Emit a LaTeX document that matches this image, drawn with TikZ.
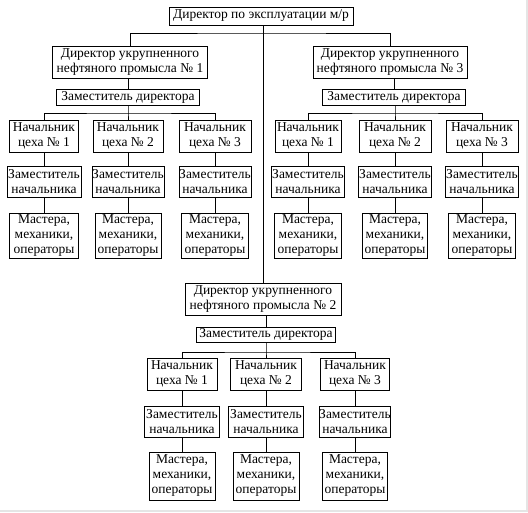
\documentclass[tikz,border=0pt]{standalone}
\usepackage{fontspec}
\setmainfont{Liberation Serif}
\begin{document}
\begin{tikzpicture}[x=1pt,y=-1pt,
  bx/.style={draw=black,line width=1pt,inner sep=0pt,align=center,
    font=\fontsize{13.5}{15}\selectfont},
  ln/.style={line width=1pt,draw=black}]
\useasboundingbox (0,0) rectangle (528,512);
\fill[black!10] (526,0) rectangle (528,512);
\fill[black!10] (0,509.5) rectangle (528,512);
% top
\node[bx,minimum width=184pt,minimum height=18pt] (top) at (261,16) {Директор по эксплуатации м/р};
% left branch
\node[bx,minimum width=155pt,minimum height=32pt] (d1) at (130,62) {Директор укрупненного\\нефтяного промысла № 1};
\node[bx,minimum width=143pt,minimum height=16pt] (p1) at (128,97) {Заместитель директора};
\node[bx,minimum width=69pt,minimum height=32pt] (n11) at (44,136) {Начальник\\цеха № 1};
\node[bx,minimum width=70pt,minimum height=32pt] (n12) at (128,136) {Начальник\\цеха № 2};
\node[bx,minimum width=72pt,minimum height=32pt] (n13) at (215,136) {Начальник\\цеха № 3};
\node[bx,minimum width=74pt,minimum height=31pt] (z11) at (44,181.5) {Заместитель\\начальника};
\node[bx,minimum width=72pt,minimum height=31pt] (z12) at (128,181.5) {Заместитель\\начальника};
\node[bx,minimum width=72pt,minimum height=31pt] (z13) at (215,181.5) {Заместитель\\начальника};
\node[bx,minimum width=69pt,minimum height=45pt] (m11) at (44,235.5) {Мастера,\\механики,\\операторы};
\node[bx,minimum width=66pt,minimum height=45pt] (m12) at (128,235.5) {Мастера,\\механики,\\операторы};
\node[bx,minimum width=67pt,minimum height=45pt] (m13) at (215,235.5) {Мастера,\\механики,\\операторы};
% right branch
\node[bx,minimum width=154pt,minimum height=32pt] (d3) at (390,62) {Директор укрупненного\\нефтяного промысла № 3};
\node[bx,minimum width=143pt,minimum height=16pt] (p3) at (394,97) {Заместитель директора};
\node[bx,minimum width=66pt,minimum height=32pt] (n31) at (308,136) {Начальник\\цеха № 1};
\node[bx,minimum width=72pt,minimum height=32pt] (n32) at (395,136) {Начальник\\цеха № 2};
\node[bx,minimum width=72pt,minimum height=32pt] (n33) at (482,136) {Начальник\\цеха № 3};
\node[bx,minimum width=73pt,minimum height=31pt] (z31) at (308,181.5) {Заместитель\\начальника};
\node[bx,minimum width=73pt,minimum height=31pt] (z32) at (395,181.5) {Заместитель\\начальника};
\node[bx,minimum width=73pt,minimum height=31pt] (z33) at (482,181.5) {Заместитель\\начальника};
\node[bx,minimum width=67pt,minimum height=45pt] (m31) at (308,235.5) {Мастера,\\механики,\\операторы};
\node[bx,minimum width=65pt,minimum height=45pt] (m32) at (395,235.5) {Мастера,\\механики,\\операторы};
\node[bx,minimum width=67pt,minimum height=45pt] (m33) at (482,235.5) {Мастера,\\механики,\\операторы};
% middle branch
\node[bx,minimum width=156pt,minimum height=32pt] (d2) at (263,299) {Директор укрупненного\\нефтяного промысла № 2};
\node[bx,minimum width=139pt,minimum height=15pt] (p2) at (266,334.5) {Заместитель директора};
\node[bx,minimum width=70pt,minimum height=32pt] (n21) at (182,374) {Начальник\\цеха № 1};
\node[bx,minimum width=71pt,minimum height=32pt] (n22) at (266,374) {Начальник\\цеха № 2};
\node[bx,minimum width=69pt,minimum height=32pt] (n23) at (355,374) {Начальник\\цеха № 3};
\node[bx,minimum width=75pt,minimum height=31pt] (z21) at (182,421.5) {Заместитель\\начальника};
\node[bx,minimum width=75pt,minimum height=31pt] (z22) at (266,421.5) {Заместитель\\начальника};
\node[bx,minimum width=71pt,minimum height=31pt] (z23) at (355,421.5) {Заместитель\\начальника};
\node[bx,minimum width=66pt,minimum height=48pt] (m21) at (182,476) {Мастера,\\механики,\\операторы};
\node[bx,minimum width=66pt,minimum height=48pt] (m22) at (266,476) {Мастера,\\механики,\\операторы};
\node[bx,minimum width=65pt,minimum height=48pt] (m23) at (355,476) {Мастера,\\механики,\\операторы};
% bus coordinates
\coordinate (b0) at (263,33);
\coordinate (b1) at (128,113);
\coordinate (b3) at (395,113);
\coordinate (b2) at (266,352);
% connectors top level
\draw[ln] (top.south -| b0) -- (d2.north);
\draw[ln] (d1.north) |- (b0) -| (d3.north);
% left
\draw[ln] (d1.south -| p1.north) -- (p1.north);
\draw[ln] (p1.south) -- (b1) -- (n12.north);
\draw[ln] (n11.north) |- (b1) -| (n13.north);
\draw[ln] (n11) -- (z11) -- (m11);
\draw[ln] (n12) -- (z12) -- (m12);
\draw[ln] (n13) -- (z13) -- (m13);
% right
\draw[ln] (d3.south -| p3.north) -- (p3.north);
\draw[ln] (p3.south -| b3) -- (b3) -- (n32.north);
\draw[ln] (n31.north) |- (b3) -| (n33.north);
\draw[ln] (n31) -- (z31) -- (m31);
\draw[ln] (n32) -- (z32) -- (m32);
\draw[ln] (n33) -- (z33) -- (m33);
% middle
\draw[ln] (d2.south -| p2.north) -- (p2.north);
\draw[ln] (p2.south) -- (b2) -- (n22.north);
\draw[ln] (n21.north) |- (b2) -| (n23.north);
\draw[ln] (n21) -- (z21) -- (m21);
\draw[ln] (n22) -- (z22) -- (m22);
\draw[ln] (n23) -- (z23) -- (m23);
\end{tikzpicture}
\end{document}
